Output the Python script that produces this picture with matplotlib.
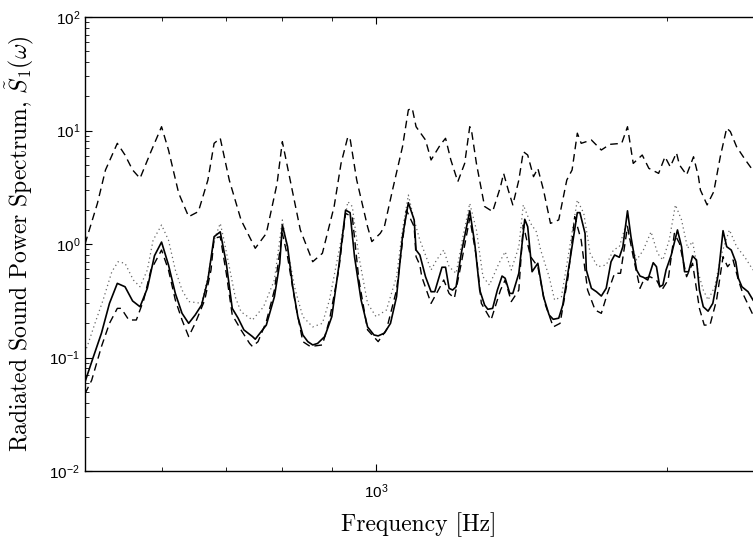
import matplotlib
matplotlib.use("Agg")
import matplotlib.pyplot as plt
from matplotlib.ticker import LogLocator, NullFormatter

# frequencies [Hz] and spectrum values
freq_solid = [500, 510, 520, 530, 540, 550, 560, 570, 580, 590,
              600, 610, 620, 630, 640, 650, 660, 670, 680, 690,
              700, 710, 720, 730, 745, 750, 770, 785, 795, 800,
              810, 820, 830, 840, 850, 860, 870, 885, 900, 915,
              930, 940, 950, 965, 980, 995, 1005, 1020, 1035, 1050,
              1065, 1080, 1095, 1100, 1110, 1125, 1140, 1150, 1170, 1180,
              1190, 1200, 1210, 1225, 1250, 1265, 1280, 1295, 1305, 1320,
              1335, 1350, 1360, 1375, 1385, 1405, 1425, 1435, 1450, 1470,
              1490, 1510, 1525, 1545, 1560, 1585, 1615, 1625, 1645, 1650,
              1670, 1690, 1710, 1730, 1750, 1765, 1785, 1800, 1820, 1835,
              1860, 1875, 1890, 1910, 1935, 1950, 1965, 1980, 1995, 2020,
              2050, 2070, 2085, 2105, 2125, 2145, 2160, 2180, 2205, 2230,
              2260, 2285, 2305, 2330, 2355, 2370, 2390, 2425, 2454]
S_solid = [0.061, 0.101, 0.164, 0.300, 0.450, 0.420, 0.315, 0.280, 0.407, 0.789,
           1.04, 0.653, 0.367, 0.245, 0.200, 0.237, 0.290, 0.482, 1.16, 1.28,
           0.676, 0.271, 0.222, 0.175, 0.153, 0.145, 0.193, 0.343, 0.676, 1.47,
           0.947, 0.420, 0.229, 0.158, 0.138, 0.129, 0.133, 0.153, 0.229, 0.631,
           1.99, 1.89, 0.773, 0.321, 0.186, 0.158, 0.155, 0.164, 0.200, 0.343,
           1.16, 2.31, 1.63, 0.885, 0.800, 0.515, 0.380, 0.380, 0.624, 0.624,
           0.407, 0.393, 0.420, 0.828, 1.96, 1.01, 0.393, 0.290, 0.266, 0.271,
           0.393, 0.522, 0.499, 0.367, 0.367, 0.552, 1.65, 1.42, 0.570, 0.676,
           0.343, 0.237, 0.217, 0.222, 0.290, 0.676, 1.89, 1.89, 1.24, 0.590,
           0.407, 0.380, 0.348, 0.407, 0.698, 0.800, 0.764, 0.947, 1.96, 1.16,
           0.590, 0.522, 0.509, 0.482, 0.684, 0.631, 0.420, 0.435, 0.590, 0.800,
           1.33, 0.947, 0.570, 0.570, 0.785, 0.723, 0.393, 0.280, 0.256, 0.300,
           0.552, 1.31, 0.947, 0.885, 0.698, 0.499, 0.420, 0.380, 0.321]

freq_dot = [500, 504, 512, 522, 533, 541, 550, 561, 570, 580,
            588, 600, 610, 620, 630, 640, 660, 670, 680, 690,
            695, 705, 715, 725, 745, 765, 785, 800, 810, 825,
            840, 860, 880, 895, 920, 935, 945, 960, 980, 1000,
            1025, 1050, 1065, 1080, 1095, 1110, 1115, 1140, 1155, 1175,
            1190, 1210, 1230, 1250, 1270, 1290, 1310, 1340, 1360, 1380,
            1405, 1420, 1445, 1465, 1480, 1510, 1530, 1555, 1580, 1615,
            1640, 1665, 1695, 1730, 1760, 1785, 1815, 1830, 1860, 1890,
            1925, 1955, 1980, 2010, 2040, 2070, 2100, 2125, 2155, 2180,
            2205, 2240, 2275, 2320, 2360, 2405, 2454]
S_dot = [0.111, 0.134, 0.200, 0.321, 0.570, 0.698, 0.676, 0.482, 0.420, 0.590,
         1.08, 1.47, 1.08, 0.590, 0.393, 0.311, 0.300, 0.515, 1.08, 1.52,
         1.16, 0.631, 0.343, 0.253, 0.214, 0.280, 0.482, 1.63, 0.885, 0.393,
         0.229, 0.186, 0.200, 0.321, 1.08, 2.36, 2.14, 0.773, 0.300, 0.229,
         0.262, 0.515, 1.33, 2.70, 1.63, 1.08, 0.980, 0.590, 0.723, 0.885,
         0.631, 0.552, 1.16, 2.28, 1.33, 0.515, 0.435, 0.676, 0.855, 0.590,
         0.947, 2.21, 1.52, 1.28, 0.885, 0.515, 0.321, 0.343, 0.773, 2.44,
         1.86, 0.828, 0.631, 0.653, 0.885, 0.947, 1.52, 1.08, 0.723, 0.885,
         1.28, 0.828, 0.723, 1.08, 2.21, 1.63, 0.917, 1.05, 0.552, 0.393,
         0.321, 0.420, 0.800, 1.33, 0.947, 0.773, 0.590]

freq_low = [500, 508, 520, 530, 540, 545, 555, 565, 575, 585,
            600, 610, 620, 630, 640, 650, 665, 675, 680, 690,
            700, 710, 725, 740, 745, 755, 770, 785, 800, 810,
            825, 840, 855, 880, 895, 915, 930, 945, 960, 980,
            1005, 1025, 1050, 1075, 1095, 1100, 1110, 1115, 1140, 1160,
            1175, 1190, 1205, 1225, 1250, 1270, 1285, 1315, 1345, 1360,
            1380, 1405, 1420, 1445, 1470, 1495, 1525, 1550, 1580, 1605,
            1630, 1645, 1655, 1685, 1710, 1735, 1765, 1790, 1820, 1845,
            1875, 1895, 1920, 1950, 1975, 2005, 2035, 2060, 2095, 2125,
            2160, 2185, 2215, 2250, 2285, 2310, 2340, 2370, 2395, 2454]
S_low = [0.048, 0.063, 0.125, 0.200, 0.271, 0.271, 0.214, 0.214, 0.321, 0.590,
         0.885, 0.590, 0.321, 0.214, 0.153, 0.200, 0.321, 0.590, 1.12, 1.16,
         0.552, 0.237, 0.175, 0.133, 0.125, 0.138, 0.207, 0.393, 1.24, 0.773,
         0.300, 0.138, 0.125, 0.129, 0.214, 0.590, 1.86, 1.74, 0.482, 0.175,
         0.138, 0.175, 0.393, 1.99, 1.42, 0.773, 0.653, 0.515, 0.300, 0.393,
         0.482, 0.367, 0.333, 0.676, 1.69, 0.773, 0.300, 0.214, 0.393, 0.482,
         0.311, 0.393, 1.47, 0.773, 0.631, 0.300, 0.186, 0.200, 0.515, 1.74,
         1.08, 0.590, 0.393, 0.262, 0.245, 0.367, 0.552, 0.552, 1.42, 0.773,
         0.407, 0.499, 0.515, 0.482, 0.393, 0.482, 1.24, 1.01, 0.515, 0.676,
         0.271, 0.193, 0.193, 0.321, 0.773, 0.631, 0.723, 0.482, 0.367, 0.237]

freq_up = [500, 515, 525, 540, 550, 560, 570, 585, 600, 610,
           625, 640, 655, 670, 680, 690, 705, 725, 750, 770,
           790, 800, 815, 835, 860, 880, 905, 920, 935, 940,
           955, 980, 990, 1010, 1020, 1040, 1065, 1080, 1090, 1100,
           1125, 1140, 1165, 1180, 1195, 1215, 1235, 1250, 1255, 1270,
           1295, 1320, 1345, 1355, 1370, 1385, 1405, 1420, 1435, 1455,
           1470, 1490, 1515, 1545, 1575, 1595, 1615, 1630, 1670, 1710,
           1745, 1795, 1820, 1845, 1885, 1915, 1960, 1990, 2015, 2045,
           2060, 2095, 2130, 2155, 2165, 2200, 2235, 2270, 2305, 2325,
           2360, 2410, 2445]
S_up = [1.0, 2.28, 4.49, 7.71, 6.08, 4.49, 3.79, 6.51, 10.8, 6.73,
        2.80, 1.74, 1.93, 3.66, 7.71, 8.55, 3.66, 1.63, 0.917, 1.24,
        3.41, 7.97, 3.66, 1.33, 0.698, 0.828, 2.14, 5.13, 8.8, 8.5,
        3.66, 1.42, 1.05, 1.24, 1.42, 2.99, 7.19, 15.2, 15.7, 10.8,
        8.25, 5.50, 7.45, 8.54, 5.50, 3.54, 5.13, 10.8, 10.1, 5.13,
        2.14, 1.93, 3.20, 4.19, 2.99, 2.21, 3.66, 6.51, 6.08, 3.92,
        4.64, 2.99, 1.52, 1.63, 3.66, 4.49, 9.47, 7.71, 8.25, 6.73,
        7.55, 7.71, 10.8, 5.13, 6.08, 4.64, 4.19, 5.87, 4.79, 6.36,
        4.97, 4.06, 5.87, 3.92, 2.99, 2.21, 2.89, 5.87, 10.5, 9.79,
        7.19, 5.50, 4.64]

plt.rcParams['font.family'] = ['Liberation Sans', 'DejaVu Sans']
plt.rcParams['mathtext.fontset'] = 'cm'

fig = plt.figure(figsize=(7.53, 5.43), dpi=100)
ax = fig.add_axes([85 / 753, 72 / 543, 668 / 753, 454 / 543])

ax.plot(freq_up, S_up, color='k', lw=1.0, linestyle=(0, (5.5, 3.5)))
ax.plot(freq_dot, S_dot, color='0.4', lw=0.9, linestyle=(0, (1, 2.5)))
ax.plot(freq_low, S_low, color='k', lw=1.0, linestyle=(0, (5.5, 3.5)))
ax.plot(freq_solid, S_solid, color='k', lw=1.2)

ax.set_xscale('log')
ax.set_yscale('log')
ax.set_xlim(500, 2454)
ax.set_ylim(1e-2, 1e2)

ax.xaxis.set_major_locator(LogLocator(base=10))
ax.xaxis.set_minor_locator(LogLocator(base=10, subs=range(2, 10)))
ax.xaxis.set_minor_formatter(NullFormatter())
ax.yaxis.set_major_locator(LogLocator(base=10))
ax.yaxis.set_minor_locator(LogLocator(base=10, subs=range(2, 10)))
ax.yaxis.set_minor_formatter(NullFormatter())

ax.spines['right'].set_visible(False)
for s in ['left', 'top', 'bottom']:
    ax.spines[s].set_linewidth(1.0)
ax.tick_params(which='both', direction='in', top=True, right=False, labelsize=11)
ax.tick_params(which='major', length=5, width=0.8)
ax.tick_params(which='minor', length=3, width=0.6)
ax.tick_params(axis='x', pad=8)

ax.set_xlabel('Frequency [Hz]', fontfamily='cmr10', fontsize=17)
ax.set_ylabel(r'Radiated Sound Power Spectrum, $\tilde{S}_1(\omega)$',
              fontfamily='cmr10', fontsize=17)
ax.xaxis.set_label_coords(0.5, -0.09)
ax.yaxis.set_label_coords(-0.073, 0.5)

fig.savefig('out.png', dpi=100)
